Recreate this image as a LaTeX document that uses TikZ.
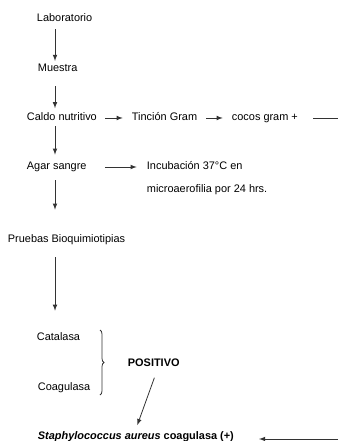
\documentclass[tikz,border=0pt]{standalone}
\usepackage{fontspec}
\setmainfont{Liberation Sans}
\usepackage{tikz}
\usetikzlibrary{shapes,arrows,positioning,decorations.pathreplacing}

\tikzset{
  paso/.style={anchor=west, inner sep=2pt, text height=6pt, text depth=1.7pt,
    font=\fontsize{8.2pt}{10pt}\selectfont},
  flecha/.style={-latex, line width=0.6pt, draw=black!80},
  linea/.style={line width=0.6pt, draw=black!80}
}

\begin{document}
\begin{tikzpicture}[x=0.75pt,y=-0.75pt]
  \useasboundingbox (0,0) rectangle (338,441);

  \node[paso] (lab) at (34,19) {Laboratorio};
  \node[paso] (mue) at (35,69) {Muestra};
  \node[paso] (cal) at (24,118) {Caldo nutritivo};
  \node[paso] (tin) at (129,118) {Tinción Gram};
  \node[paso] (coc) at (229,118) {cocos gram +};
  \node[paso] (aga) at (24,167) {Agar sangre};
  \node[paso] (inc) at (144,167) {Incubación 37°C en};
  \node[paso] (incb) at (144,190) {microaerofilia por 24 hrs.};
  \node[paso] (pru) at (5,240) {Pruebas Bioquimiotipias};
  \node[paso] (cat) at (34,338) {Catalasa};
  \node[paso] (coa) at (35,388) {Coagulasa};
  \node[paso] (pos) at (125,364) {\bfseries POSITIVO};
  \node[paso] (sta) at (35,437) {\bfseries\itshape Staphylococcus aureus\upshape{} coagulasa (+)};

  \coordinate (eje) at (55,0);
  \coordinate (borde1) at (338,118);
  \coordinate (borde2) at (338,439);
  \coordinate (llave1) at (100,330);
  \coordinate (llave2) at (100,395);

  % columna izquierda
  \draw[flecha, shorten <=1.6pt] (lab.south -| eje) -- (mue.north -| eje);
  \draw[flecha, shorten <=6.9pt, shorten >=1.3pt] (mue.south -| eje) -- (cal.north -| eje);
  \draw[flecha, shorten >=3.2pt] (cal.south -| eje) -- (aga.north -| eje);
  \draw[flecha, shorten <=3.9pt, shorten >=16.7pt] (aga.south -| eje) -- (pru.north -| eje);
  \draw[flecha, shorten <=6.9pt, shorten >=14.4pt] (pru.south -| eje) -- (cat.north -| eje);

  % ramas
  \draw[flecha, shorten <=4pt, shorten >=4.7pt] (cal.east) -- (tin.west);
  \draw[flecha, shorten <=4.7pt, shorten >=4.7pt] (tin.east) -- (coc.west);
  \draw[linea, shorten <=9.2pt] (coc.east) -- (borde1);
  \draw[flecha, shorten <=11.5pt, shorten >=5.5pt] (aga.east) -- (inc.west);

  % resultado
  \draw[linea, decorate, decoration={brace, amplitude=3pt}] (llave1) -- (llave2);
  \draw[flecha, shorten <=4.5pt, shorten >=3pt] ([xshift=2pt]pos.south) -- (sta.north);
  \draw[flecha, shorten >=16.7pt] (borde2) -- (sta.east |- borde2);
\end{tikzpicture}
\end{document}
